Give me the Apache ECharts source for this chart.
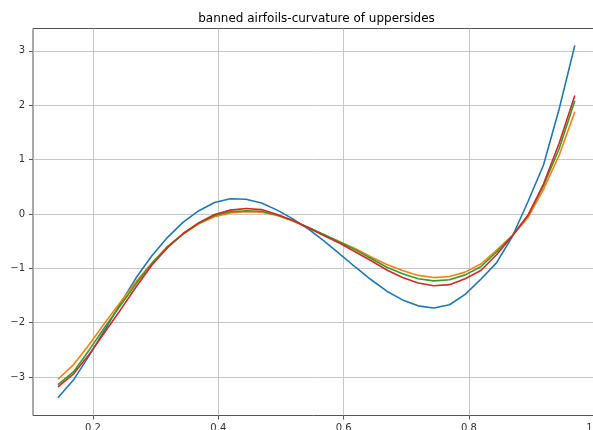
<!DOCTYPE html>
<html>
<head>
<meta charset="utf-8">
<script src="https://cdn.jsdelivr.net/npm/echarts@6/dist/echarts.min.js"></script>
<style>
  html, body { margin: 0; padding: 0; background: #fff; }
  #chart { width: 593px; height: 430px; }
</style>
</head>
<body>
<div id="chart"></div>
<script>
// Chordwise stations along the upper surface
const xs = [0.144, 0.169, 0.194, 0.219, 0.244, 0.269, 0.294, 0.319, 0.344, 0.369,
            0.394, 0.419, 0.444, 0.469, 0.494, 0.519, 0.544, 0.569, 0.594, 0.619,
            0.644, 0.669, 0.694, 0.719, 0.744, 0.769, 0.794, 0.819, 0.844, 0.869,
            0.894, 0.919, 0.944, 0.969];

// Curvature of the upper side, one array per airfoil
const foil1 = [-3.38, -3.05, -2.60, -2.13, -1.64, -1.17, -0.77, -0.43, -0.15, 0.06,
               0.21, 0.28, 0.27, 0.20, 0.07, -0.09, -0.28, -0.50, -0.74, -0.98,
               -1.21, -1.42, -1.58, -1.69, -1.73, -1.67, -1.48, -1.20, -0.90, -0.42,
               0.22, 0.90, 1.93, 3.10];
const foil2 = [-3.04, -2.77, -2.40, -2.00, -1.62, -1.24, -0.90, -0.60, -0.37, -0.18,
               -0.05, 0.02, 0.04, 0.03, -0.03, -0.13, -0.25, -0.38, -0.51, -0.64,
               -0.79, -0.93, -1.04, -1.13, -1.17, -1.15, -1.07, -0.92, -0.67, -0.40,
               -0.07, 0.45, 1.08, 1.88];
const foil3 = [-3.14, -2.90, -2.50, -2.08, -1.68, -1.28, -0.91, -0.60, -0.36, -0.17,
               -0.03, 0.04, 0.06, 0.05, -0.02, -0.12, -0.25, -0.38, -0.52, -0.66,
               -0.82, -0.98, -1.10, -1.19, -1.23, -1.21, -1.12, -0.97, -0.70, -0.40,
               -0.03, 0.52, 1.20, 2.08];
const foil4 = [-3.18, -2.94, -2.58, -2.17, -1.76, -1.34, -0.94, -0.62, -0.36, -0.16,
               -0.01, 0.07, 0.10, 0.08, -0.01, -0.12, -0.26, -0.40, -0.54, -0.70,
               -0.86, -1.03, -1.17, -1.27, -1.32, -1.30, -1.19, -1.04, -0.75, -0.41,
               -0.03, 0.55, 1.30, 2.18];

const xTicks = [0.2, 0.4, 0.6, 0.8, 1.0];
const yTicks = [-3, -2, -1, 0, 1, 2, 3];

const foils = [foil1, foil2, foil3, foil4];
const colors = ['#1f77b4', '#ff7f0e', '#2ca02c', '#d62728'];

const font = 'DejaVu Sans';
const chart = echarts.init(document.getElementById('chart'), null, { renderer: 'canvas' });

chart.setOption({
  animation: false,
  backgroundColor: '#ffffff',
  graphic: [{
    type: 'text',
    x: 316.5,
    y: 19,
    style: {
      text: 'banned airfoils-curvature of uppersides',
      font: '12px "DejaVu Sans"',
      fill: '#000',
      align: 'center',
      verticalAlign: 'middle'
    }
  }],
  grid: {
    left: 33,
    top: 28.5,
    width: 567,
    height: 387,
    outerBoundsMode: 'none',
    containLabel: false,
    show: true,
    borderColor: '#555',
    borderWidth: 1,
    backgroundColor: 'transparent'
  },
  xAxis: {
    type: 'value',
    min: 0.1042,
    max: 1.0092,
    axisLine: { show: false, onZero: false },
    axisTick: {
      show: true, inside: false, length: 4,
      customValues: xTicks,
      lineStyle: { color: '#555', width: 1 }
    },
    axisLabel: {
      customValues: xTicks,
      margin: 8,
      color: '#333',
      fontFamily: font,
      fontSize: 10,
      formatter: v => v.toFixed(1)
    },
    splitLine: { show: true, lineStyle: { color: '#c6c6c6', width: 1 } }
  },
  yAxis: {
    type: 'value',
    min: -3.706,
    max: 3.41,
    axisLine: { show: false, onZero: false },
    axisTick: {
      show: true, inside: false, length: 4,
      customValues: yTicks,
      lineStyle: { color: '#555', width: 1 }
    },
    axisLabel: {
      customValues: yTicks,
      margin: 8,
      color: '#333',
      fontFamily: font,
      fontSize: 10,
      formatter: v => (v < 0 ? '\u2212' + Math.abs(v) : String(v))
    },
    splitLine: { show: true, lineStyle: { color: '#c6c6c6', width: 1 } }
  },
  series: foils.map((ys, k) => ({
    type: 'line',
    data: xs.map((x, i) => [x, ys[i]]),
    showSymbol: false,
    smooth: false,
    clip: true,
    lineStyle: { color: colors[k], width: 1.6 },
    itemStyle: { color: colors[k] },
    z: 2 + k
  }))
});
</script>
</body>
</html>
